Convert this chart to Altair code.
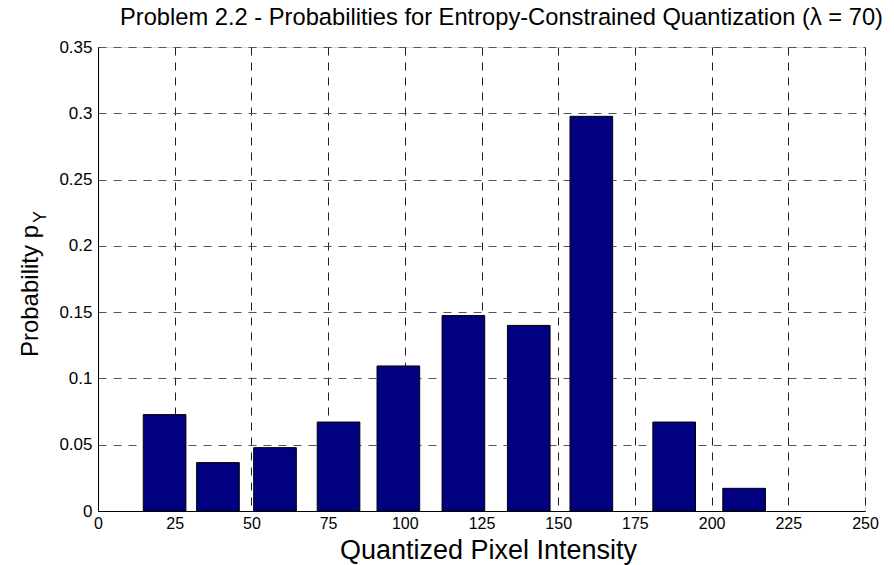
import altair as alt
import pandas as pd

# Reconstruction levels of the quantizer and their probabilities
levels = [21.7, 39.1, 57.7, 78.4, 97.9, 119.1, 140.4, 160.8, 187.8, 210.6]
probabilities = [0.0727, 0.0365, 0.0478, 0.0671, 0.1094, 0.1474, 0.140, 0.2977, 0.0671, 0.0171]

x_ticks = [0, 25, 50, 75, 100, 125, 150, 175, 200, 225, 250]
y_ticks = [0, 0.05, 0.1, 0.15, 0.2, 0.25, 0.3, 0.35]

title_text = ["Problem 2.2 - Probabilities for Entropy-Constrained Quantization (\u03bb = 70)"]
x_title = "Quantized Pixel Intensity"
y_title_main = ["Probability p"]
y_title_sub = ["Y"]

FONT = "Liberation Sans"
BAR_WIDTH = 13.9  # in data units, same for every bar
GRID_DASH = [8, 7]

df = pd.DataFrame({"level": levels, "p": probabilities})

bars = (
    alt.Chart(df)
    .transform_calculate(
        x_lo=f"datum.level - {BAR_WIDTH / 2}",
        x_hi=f"datum.level + {BAR_WIDTH / 2}",
    )
    .mark_bar(color="#000080", stroke="black", strokeWidth=1)
    .encode(
        x=alt.X(
            "x_lo:Q",
            scale=alt.Scale(domain=[0, 250], nice=False, zero=False),
            axis=alt.Axis(
                values=x_ticks,
                title=x_title,
                titleFontSize=27,
                titleFont=FONT,
                titleFontWeight="normal",
                titleColor="black",
                titleX=390,
                titleY=47,
                titleBaseline="alphabetic",
                labelFontSize=16,
                labelFont=FONT,
                labelColor="black",
                labelPadding=4,
                labelFlush=False,
                ticks=False,
                domainColor="black",
                grid=True,
                gridDash=GRID_DASH,
                gridColor="#202020",
                gridOpacity=1,
            ),
        ),
        x2="x_hi:Q",
        y=alt.Y(
            "p:Q",
            scale=alt.Scale(domain=[0, 0.35], nice=False),
            axis=alt.Axis(
                values=y_ticks,
                format=".2~f",
                title=None,
                labelFontSize=17,
                labelFont=FONT,
                labelColor="black",
                labelPadding=6,
                ticks=False,
                domainColor="black",
                grid=True,
                gridDash=GRID_DASH,
                gridColor="#555555",
                gridOpacity=1,
            ),
        ),
        y2=alt.datum(0),
    )
)

# y-axis title with a subscript, set as two rotated text pieces
y_main = (
    alt.Chart(pd.DataFrame({"t": y_title_main}))
    .mark_text(angle=270, align="right", baseline="alphabetic", fontSize=24, font=FONT, color="black")
    .encode(text="t:N", x=alt.value(-60), y=alt.value(178))
)
y_sub = (
    alt.Chart(pd.DataFrame({"t": y_title_sub}))
    .mark_text(angle=270, align="left", baseline="alphabetic", fontSize=18, font=FONT, color="black")
    .encode(text="t:N", x=alt.value(-52), y=alt.value(176))
)

# chart title above the plot
title = (
    alt.Chart(pd.DataFrame({"t": title_text}))
    .mark_text(align="left", baseline="alphabetic", fontSize=23.7, font=FONT, color="black")
    .encode(text="t:N", x=alt.value(22), y=alt.value(-22))
)

chart = (
    alt.layer(bars, y_main, y_sub, title)
    .properties(
        width=767,
        height=464,
        autosize=alt.AutoSizeParams(type="none"),
        padding={"left": 98, "top": 47, "right": 29, "bottom": 54},
    )
    .configure_view(stroke="black", strokeWidth=1)
    .configure(background="white")
)

chart.save("out.html", embed_options={"renderer": "svg", "actions": False})
